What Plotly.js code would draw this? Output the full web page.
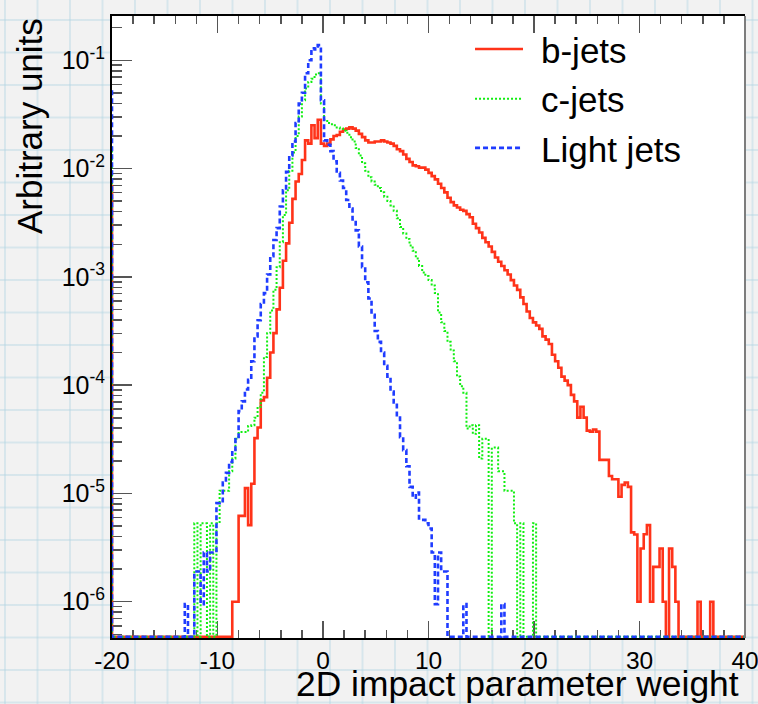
<!DOCTYPE html>
<html>
<head>
<meta charset="utf-8">
<script src="https://cdn.plot.ly/plotly-3.0.1.min.js"></script>
<style>
  html, body { margin: 0; padding: 0; }
  body {
    width: 758px; height: 704px; overflow: hidden;
    background-color: #f2f2f2;
    background-image:
      linear-gradient(to right, rgba(175,212,226,0.40) 2px, transparent 2px),
      linear-gradient(to bottom, rgba(175,212,226,0.40) 2px, transparent 2px);
    background-size: 32.5px 32.5px;
    background-position: 4px 19px;
  }
  #chart { width: 758px; height: 704px; }
</style>
</head>
<body>
<div id="chart"></div>
<script>
// ---- binning / axes ----
const binWidth = 0.3;
const xRange = [-20, 40];
const yRangeLog = [-6.335, -0.591];

const xTickVals = [-20, -10, 0, 10, 20, 30, 40];
const xTickText = ['-20', '-10', '0', '10', '20', '30', '40'];
const yTickVals = [1e-6, 1e-5, 1e-4, 1e-3, 1e-2, 1e-1];
const yTickText = ['10<sup>-6</sup>', '10<sup>-5</sup>', '10<sup>-4</sup>', '10<sup>-3</sup>', '10<sup>-2</sup>', '10<sup>-1</sup>'];

const seriesNames = ['b-jets', 'c-jets', 'Light jets'];

// ---- b-jets ----
const bFirstEdge = -8.6;
const bUnderflow = 0.0071;
const bValues = [
  1.0e-6, 1.0e-6, 6.2e-6, 6.2e-6, 1.12e-5, 5.1e-6, 1.23e-5, 3.24e-5, 4.07e-5, 7.24e-5,
  7.76e-5, 1.17e-4, 2.0e-4, 3.02e-4, 5.01e-4, 7.94e-4, 1.41e-3, 2.04e-3, 3.16e-3, 5.25e-3,
  7.59e-3, 8.91e-3, 0.0120, 0.0182, 0.0170, 0.0251, 0.0191, 0.0282, 0.0170, 0.0162,
  0.0170, 0.0186, 0.0200, 0.0204, 0.0219, 0.0229, 0.0234, 0.0240, 0.0234, 0.0224,
  0.0209, 0.0195, 0.0182, 0.0174, 0.0174, 0.0178, 0.0178, 0.0182, 0.0178, 0.0174,
  0.0170, 0.0162, 0.0151, 0.0145, 0.0135, 0.0123, 0.0115, 0.0107, 0.0105, 0.0102,
  0.0102, 0.00977, 0.00912, 0.00851, 0.00794, 0.00724, 0.00661, 0.00603, 0.00537, 0.00490,
  0.00457, 0.00437, 0.00417, 0.00407, 0.00380, 0.00355, 0.00309, 0.00282, 0.00257, 0.00229,
  0.00209, 0.00191, 0.00170, 0.00151, 0.00138, 0.00126, 0.00115, 0.00105, 9.33e-4, 8.32e-4,
  7.59e-4, 6.46e-4, 5.62e-4, 4.79e-4, 4.17e-4, 3.80e-4, 3.55e-4, 3.31e-4, 2.82e-4, 2.63e-4,
  2.40e-4, 1.91e-4, 1.66e-4, 1.45e-4, 1.20e-4, 1.10e-4, 1.00e-4, 8.13e-5, 7.08e-5, 5.01e-5,
  6.31e-5, 5.01e-5, 3.80e-5, 3.72e-5, 3.89e-5, 3.72e-5, 2.04e-5, 2.04e-5, 2.04e-5, 1.45e-5,
  1.35e-5, 1.35e-5, 9.33e-6, 1.20e-5, 1.26e-5, 1.15e-5, 4.37e-6, 4.17e-6, 1.0e-6, 3.1e-6,
  4.2e-6, 5.1e-6, 1.0e-6, 2.1e-6, 2.1e-6, 3.1e-6, 1.0e-6, 0, 3.1e-6, 2.1e-6,
  1.0e-6, 0, 0, 0, 0, 0, 0, 1.0e-6, 0, 0,
  0, 1.0e-6
];

// ---- c-jets ----
const cFirstEdge = -12.2;
const cUnderflow = 0.016;
const cValues = [
  5.3e-6, 0, 5.3e-6, 5.3e-6, 0, 5.3e-6, 0, 5.3e-6, 1.06e-5, 1.06e-5,
  1.06e-5, 1.6e-5, 2.1e-5, 3.2e-5, 3.7e-5, 3.7e-5, 3.7e-5, 4.2e-5, 4.27e-5, 5.01e-5,
  6.31e-5, 8.51e-5, 1.82e-4, 3.02e-4, 4.90e-4, 7.59e-4, 1.23e-3, 2.09e-3, 3.72e-3, 6.31e-3,
  9.55e-3, 0.0141, 0.0200, 0.0302, 0.0427, 0.0550, 0.0631, 0.0676, 0.0741, 0.0759,
  0.0398, 0.0282, 0.0263, 0.0257, 0.0251, 0.0240, 0.0234, 0.0224, 0.0214, 0.0195,
  0.0178, 0.0155, 0.0132, 0.0112, 0.00955, 0.00832, 0.00759, 0.00708, 0.00661, 0.00603,
  0.00550, 0.00501, 0.00457, 0.00407, 0.00347, 0.00288, 0.00251, 0.00224, 0.00195, 0.00174,
  0.00148, 0.00126, 0.00110, 0.00102, 9.33e-4, 8.32e-4, 7.08e-4, 4.68e-4, 3.80e-4, 3.16e-4,
  2.51e-4, 2.09e-4, 1.66e-4, 1.20e-4, 9.77e-5, 8.51e-5, 3.98e-5, 4.27e-5, 3.55e-5, 4.27e-5,
  2.1e-5, 3.2e-5, 3.2e-5, 0, 2.65e-5, 2.65e-5, 1.6e-5, 1.6e-5, 1.06e-5, 1.06e-5,
  1.06e-5, 5.3e-6, 0, 5.3e-6, 0, 0, 0, 5.3e-6
];

// ---- Light jets ----
const lFirstEdge = -13.1;
const lUnderflow = 0.053;
const lValues = [
  9.5e-7, 0, 0, 1.9e-6, 1.9e-6, 9.5e-7, 2.85e-6, 1.9e-6, 2.85e-6, 2.85e-6,
  8.13e-6, 8.5e-6, 1.26e-5, 1.55e-5, 1.95e-5, 2.40e-5, 3.16e-5, 5.75e-5, 7.08e-5, 9.12e-5,
  1.12e-4, 1.66e-4, 2.82e-4, 3.98e-4, 5.62e-4, 7.08e-4, 1.05e-3, 1.55e-3, 2.19e-3, 2.82e-3,
  4.47e-3, 6.31e-3, 9.33e-3, 0.0132, 0.0178, 0.0263, 0.0398, 0.0501, 0.0759, 0.100,
  0.129, 0.126, 0.138, 0.0427, 0.0182, 0.0166, 0.0145, 0.0117, 0.00912, 0.00776,
  0.00661, 0.00513, 0.00427, 0.00339, 0.00269, 0.00191, 0.00123, 8.91e-4, 6.31e-4, 4.47e-4,
  3.16e-4, 2.51e-4, 2.00e-4, 1.51e-4, 1.20e-4, 8.71e-5, 6.92e-5, 5.01e-5, 3.31e-5, 2.51e-5,
  1.78e-5, 1.15e-5, 9.12e-6, 1.02e-5, 5.7e-6, 5.7e-6, 5.3e-6, 4.75e-6, 2.85e-6, 9.5e-7,
  2.85e-6, 1.9e-6, 1.9e-6, 0, 0, 0, 0, 0, 9.5e-7, 0,
  0, 0, 0, 0, 0, 0, 0, 0, 0, 0,
  9.5e-7
];

// ---- styles ----
const colors = ['#ff3319', '#11ee11', '#1f3cff'];
const dashes = ['solid', '2px,2px', '5px,3px'];
const widths = [2.6, 2, 2.6];
const FONT = 'Liberation Sans, Arial, Helvetica, sans-serif';

function stepXY(firstEdge, vals, under) {
  const floor = Math.pow(10, yRangeLog[0] + 0.012);
  const xs = [xRange[0], xRange[0]];
  const ys = [under, floor];
  vals.forEach((v, i) => {
    xs.push(+(firstEdge + i * binWidth).toFixed(3));
    ys.push(v > 0 ? v : floor);
  });
  xs.push(+(firstEdge + vals.length * binWidth).toFixed(3));
  ys.push(floor);
  xs.push(xRange[1]);
  ys.push(floor);
  return { xs, ys };
}

const series = [
  stepXY(bFirstEdge, bValues, bUnderflow),
  stepXY(cFirstEdge, cValues, cUnderflow),
  stepXY(lFirstEdge, lValues, lUnderflow)
];

const traces = series.map((s, i) => ({
  type: 'scatter', mode: 'lines', name: seriesNames[i],
  x: s.xs, y: s.ys,
  line: { shape: 'hv', color: colors[i], width: widths[i], dash: dashes[i] },
  showlegend: false, hoverinfo: 'skip'
}));

// minor ticks on log axis (2..9 per decade)
const yMinor = [];
for (let e = -7; e <= 0; e++) for (let m = 2; m <= 9; m++) yMinor.push(m * Math.pow(10, e));

// manual ROOT-style legend
const legendY = [0.947, 0.867, 0.788];
const shapes = [
  { type: 'line', xref: 'paper', yref: 'paper', x0: 1, x1: 1, y0: 0, y1: 1,
    line: { color: '#7d7d7d', width: 2 } }
];
const annotations = [];
seriesNames.forEach((n, i) => {
  shapes.push({ type: 'line', xref: 'paper', yref: 'paper',
    x0: 0.5735, x1: 0.6493, y0: legendY[i], y1: legendY[i],
    line: { color: colors[i], width: widths[i], dash: dashes[i] } });
  annotations.push({ xref: 'paper', yref: 'paper', x: 0.674, y: legendY[i] - 0.002,
    xanchor: 'left', yanchor: 'middle', showarrow: false, text: n,
    font: { family: FONT, size: 35, color: '#000' } });
});
annotations.push({ xref: 'paper', yref: 'paper', x: 0.993, y: -0.0735,
  xanchor: 'right', yanchor: 'middle', showarrow: false,
  text: '2D impact parameter weight', font: { family: FONT, size: 35.4, color: '#000' } });
annotations.push({ xref: 'paper', yref: 'paper', x: -0.131, y: 1.0,
  xanchor: 'center', yanchor: 'top', textangle: -90, showarrow: false,
  text: 'Arbitrary units', font: { family: FONT, size: 35, color: '#000' } });

const layout = {
  width: 758, height: 704,
  margin: { l: 112, r: 13, t: 16, b: 66 },
  paper_bgcolor: 'rgba(0,0,0,0)',
  plot_bgcolor: '#ffffff',
  showlegend: false,
  font: { family: FONT, color: '#000' },
  xaxis: {
    range: xRange, autorange: false,
    tickmode: 'array', tickvals: xTickVals, ticktext: xTickText,
    ticks: 'inside', ticklen: 17, tickwidth: 1.5, tickcolor: '#555',
    showline: true, linecolor: '#000', linewidth: 2, mirror: 'ticks',
    showgrid: false, zeroline: false,
    tickfont: { family: FONT, size: 24.5, color: '#000' },
    ticklabeloverflow: 'allow',
    minor: { tickmode: 'linear', tick0: 0, dtick: 2, ticks: 'inside', ticklen: 8,
             tickwidth: 1.5, tickcolor: '#555', showgrid: false },
    layer: 'below traces'
  },
  yaxis: {
    type: 'log', range: yRangeLog, autorange: false,
    tickmode: 'array', tickvals: yTickVals, ticktext: yTickText,
    ticks: 'inside', ticklen: 20, tickwidth: 1.5, tickcolor: '#555',
    showline: true, linecolor: '#000', linewidth: 2, mirror: false,
    showgrid: false, zeroline: false,
    tickfont: { family: FONT, size: 25, color: '#000' },
    minor: { tickmode: 'array', tickvals: yMinor, ticks: 'inside', ticklen: 10,
             tickwidth: 1.5, tickcolor: '#555', showgrid: false },
    layer: 'below traces'
  },
  shapes: shapes,
  annotations: annotations
};

Plotly.newPlot('chart', traces, layout, { displayModeBar: false, staticPlot: true });
</script>
</body>
</html>
